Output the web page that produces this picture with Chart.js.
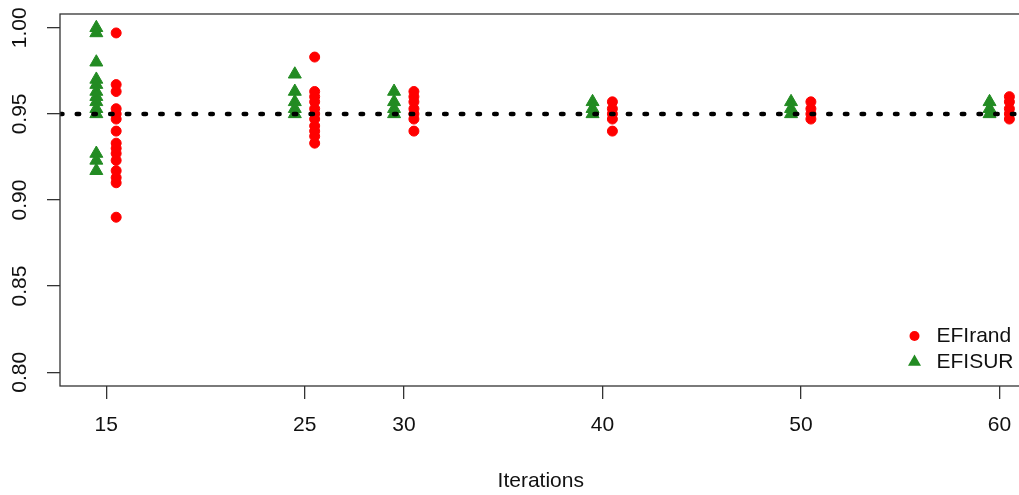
<!DOCTYPE html>
<html>
<head>
<meta charset="utf-8">
<script src="https://cdn.jsdelivr.net/npm/chart.js@4/dist/chart.umd.min.js"></script>
<style>
  html, body { margin: 0; padding: 0; background: #fff; overflow: hidden; }
</style>
</head>
<body>
<canvas id="myChart" width="1030" height="495"></canvas>
<script>
// iterations on the x axis (tick labels too)
const iterations = [15, 25, 30, 40, 50, 60]
const yTicks = [0.80, 0.85, 0.90, 0.95, 1.00]
const target = 0.95

// EFIrand values per iteration (same order as iterations)
const efiRand = [
  [0.997, 0.967, 0.963, 0.953, 0.950, 0.947, 0.940, 0.933, 0.930, 0.927, 0.923, 0.917, 0.913, 0.910, 0.890],
  [0.983, 0.963, 0.960, 0.957, 0.953, 0.950, 0.947, 0.943, 0.940, 0.937, 0.933],
  [0.963, 0.960, 0.957, 0.953, 0.950, 0.947, 0.940],
  [0.957, 0.953, 0.950, 0.947, 0.940],
  [0.957, 0.953, 0.950, 0.947],
  [0.960, 0.957, 0.953, 0.950, 0.947]
]
// EFISUR values per iteration
const efiSur = [
  [1.000, 0.997, 0.980, 0.970, 0.967, 0.963, 0.960, 0.957, 0.953, 0.950, 0.927, 0.923, 0.917],
  [0.973, 0.963, 0.957, 0.953, 0.950],
  [0.963, 0.957, 0.953, 0.950],
  [0.957, 0.953, 0.950],
  [0.957, 0.953, 0.950],
  [0.957, 0.953, 0.950]
]

const font = "'Liberation Sans', Arial, sans-serif"
const shift = 0.5   // side-by-side offset of the two methods
const xMin = 12.67, xMax = 61.11
const yMin = 0.792, yMax = 1.008

const toPoints = (groups, dx) =>
  groups.flatMap((vals, i) => vals.map(v => ({ x: iterations[i] + dx, y: v })))

// R-like box, rotated y labels, axis title and legend
const rStyle = {
  id: 'rStyle',
  afterDraw(chart) {
    const { ctx, chartArea: a, scales } = chart
    ctx.save()
    ctx.strokeStyle = '#333'
    ctx.lineWidth = 1.3
    ctx.strokeRect(a.left, a.top, a.right - a.left, a.bottom - a.top)

    ctx.fillStyle = '#111'
    ctx.font = '21px ' + font
    ctx.textAlign = 'center'
    ctx.textBaseline = 'middle'
    yTicks.forEach(v => {
      ctx.save()
      ctx.translate(20, scales.y.getPixelForValue(v))
      ctx.rotate(-Math.PI / 2)
      ctx.fillText(v.toFixed(2), 0, 0)
      ctx.restore()
    })

    ctx.fillText('Iterations', (a.left + a.right) / 2, 481)

    // legend, bottom right inside plot
    const items = chart.data.datasets.filter(d => d.showInLegend)
    items.forEach((d, i) => {
      const y = a.bottom - 50 + i * 26
      const x = a.right - 107
      ctx.fillStyle = d.backgroundColor
      if (d.pointStyle === 'triangle') {
        const r = 7.5
        ctx.beginPath()
        ctx.moveTo(x, y - r)
        ctx.lineTo(x + r * 0.866, y + r * 0.5)
        ctx.lineTo(x - r * 0.866, y + r * 0.5)
        ctx.closePath()
        ctx.fill()
      } else {
        ctx.beginPath()
        ctx.arc(x, y, 5, 0, Math.PI * 2)
        ctx.fill()
      }
      ctx.fillStyle = '#111'
      ctx.textAlign = 'left'
      ctx.fillText(d.label, a.right - 85, y)
    })
    ctx.restore()
  }
}

const ctx = document.getElementById('myChart')
new Chart(ctx, {
  type: 'scatter',
  data: {
    datasets: [
      {
        type: 'line',
        label: 'target',
        data: [{ x: xMin, y: target }, { x: xMax, y: target }],
        borderColor: '#000',
        borderWidth: 4.5,
        borderDash: [2.5, 14.2],
        borderCapStyle: 'round',
        pointRadius: 0
      },
      {
        label: 'EFIrand',
        showInLegend: true,
        data: toPoints(efiRand, shift),
        pointStyle: 'circle',
        backgroundColor: '#ff0000',
        borderColor: '#ff0000',
        pointRadius: 5,
        borderWidth: 1
      },
      {
        label: 'EFISUR',
        showInLegend: true,
        data: toPoints(efiSur, -shift),
        pointStyle: 'triangle',
        backgroundColor: '#228b22',
        borderColor: '#228b22',
        pointRadius: 7.5,
        borderWidth: 1
      }
    ]
  },
  options: {
    responsive: false,
    animation: false,
    events: [],
    layout: { padding: { top: 14, right: 8, left: 0, bottom: 0 } },
    plugins: { legend: { display: false }, tooltip: { enabled: false } },
    scales: {
      x: {
        type: 'linear',
        min: xMin,
        max: xMax,
        afterFit: s => { s.height = 109 },
        afterBuildTicks: s => { s.ticks = iterations.map(v => ({ value: v })) },
        border: { display: false },
        grid: { drawOnChartArea: false, drawTicks: true, tickLength: 13, color: '#333', lineWidth: 1.3 },
        ticks: { font: { family: font, size: 21 }, color: '#111', padding: 14, maxRotation: 0, autoSkip: false }
      },
      y: {
        min: yMin,
        max: yMax,
        afterFit: s => { s.width = 60 },
        afterBuildTicks: s => { s.ticks = yTicks.map(v => ({ value: v })) },
        border: { display: false },
        grid: { drawOnChartArea: false, drawTicks: true, tickLength: 13, color: '#333', lineWidth: 1.3 },
        ticks: { display: false }
      }
    }
  },
  plugins: [rStyle]
});
</script>
</body>
</html>
